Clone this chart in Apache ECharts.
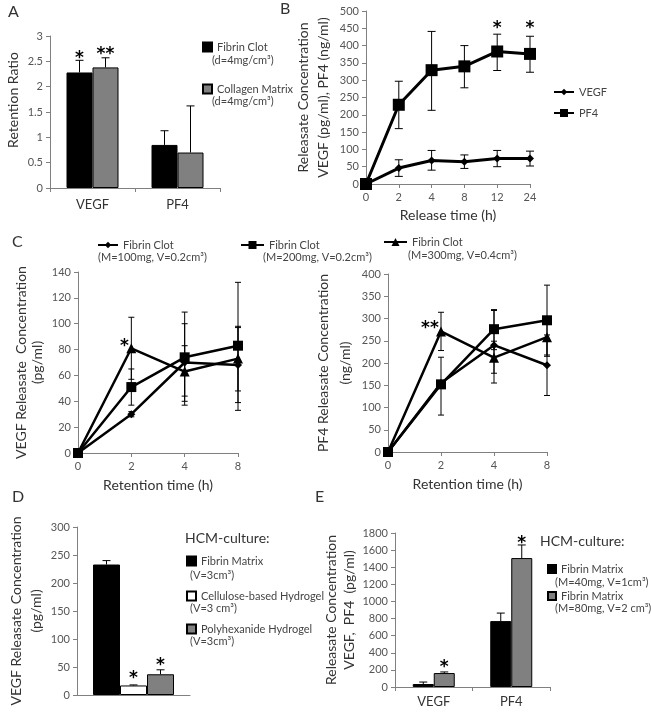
<!DOCTYPE html>
<html><head><meta charset="utf-8">
<script src="https://cdn.jsdelivr.net/npm/echarts@6.0.0/dist/echarts.min.js"></script>
<style>html,body{margin:0;padding:0;background:#fff}#c{width:651px;height:714px}</style>
</head><body><div id="c"></div>
<script>
// ---------- Panel A ----------
const aCategories = ['VEGF', 'PF4'];
const aFibrinClot = [2.28, 0.85];
const aFibrinClotHigh = [2.52, 1.13];
const aCollagen = [2.38, 0.70];
const aCollagenHigh = [2.57, 1.62];
const aStarCat = [0, 0];
const aStarBar = [0, 1];
const aStarVal = [2.66, 2.74];
const aStarText = ['*', '**'];
// ---------- Panel B ----------
const bTimes = ['0', '2', '4', '8', '12', '24'];
const bVEGF = [0, 46, 68, 64, 74, 74];
const bVEGFLow = [0, 22, 40, 45, 50, 52];
const bVEGFHigh = [0, 70, 97, 84, 97, 95];
const bPF4 = [0, 229, 329, 340, 383, 376];
const bPF4Low = [0, 160, 213, 278, 328, 323];
const bPF4High = [0, 297, 441, 400, 433, 427];
const bStarCat = [4, 5];
const bStarVal = [465, 465];
const bStarText = ['*', '*'];
// ---------- Panel C ----------
const cTimes = ['0', '2', '4', '8'];
const cVegfM100 = [0, 30, 70, 68];
const cVegfM100Low = [0, 28, 40, 39];
const cVegfM100High = [0, 32, 100, 97];
const cVegfM200 = [0, 51, 74, 83];
const cVegfM200Low = [0, 37, 37, 33];
const cVegfM200High = [0, 65, 109, 132];
const cVegfM300 = [0, 81, 63, 73];
const cVegfM300Low = [0, 57, 44, 48];
const cVegfM300High = [0, 105, 83, 98];
const cPf4M100 = [0, 155, 240, 195];
const cPf4M100Low = [0, 150, 155, 127];
const cPf4M100High = [0, 160, 320, 263];
const cPf4M200 = [0, 152, 276, 296];
const cPf4M200Low = [0, 83, 230, 215];
const cPf4M200High = [0, 213, 318, 375];
const cPf4M300 = [0, 271, 212, 258];
const cPf4M300Low = [0, 228, 177, 218];
const cPf4M300High = [0, 314, 249, 298];
const cLeftStarCat = [1], cLeftStarVal = [86], cLeftStarText = ['*'];
const cRightStarCat = [1], cRightStarVal = [288], cRightStarText = ['**'];
// ---------- Panel D ----------
const dCategories = [''];
const dFibrinMatrix = [233];
const dFibrinMatrixHigh = [240];
const dCellulose = [17];
const dCelluloseHigh = [18];
const dPolyhexanide = [37];
const dPolyhexanideHigh = [45];
const dStarCat = [0, 0], dStarBar = [1, 2], dStarVal = [39, 61], dStarText = ['*', '*'];
// ---------- Panel E ----------
const eCategories = ['VEGF', 'PF4'];
const eM40 = [35, 770];
const eM40High = [58, 864];
const eM80 = [163, 1507];
const eM80High = [176, 1660];
const eStarCat = [0, 1], eStarBar = [1, 1], eStarVal = [280, 1730], eStarText = ['*', '*'];

const FONT = 'Lato, "Open Sans", sans-serif';
const AX = '#808080';
const TXT = '#333';

function yAx(g, min, max, interval, name, nameGap, lh, pad) {
  return {type: 'value', gridIndex: g, min, max, interval, name, nameLocation: 'middle', nameGap, nameRotate: 90,
    nameTextStyle: {fontSize: 14, color: TXT, fontFamily: FONT, lineHeight: lh || 17, padding: pad || 0},
    axisLine: {show: true, lineStyle: {color: AX}}, axisTick: {show: true, length: 4, lineStyle: {color: AX}},
    axisLabel: {fontSize: 11, color: '#555', fontFamily: FONT, margin: 7, formatter: v => String(v)},
    splitLine: {show: false}};
}
function xCat(g, data, boundaryGap, opts) {
  return Object.assign({type: 'category', gridIndex: g, data, boundaryGap,
    axisLine: {show: true, lineStyle: {color: AX}}, axisTick: {show: true, length: 4, lineStyle: {color: AX}},
    axisLabel: {fontSize: 11, color: '#555', fontFamily: FONT, margin: 8}, splitLine: {show: false}}, opts || {});
}
function barS(g, name, data, color, barW) {
  return {type: 'bar', name, xAxisIndex: g, yAxisIndex: g, data, barWidth: barW, barGap: '0%',
    itemStyle: {color, borderColor: '#000', borderWidth: 1}, silent: true, z: 2};
}
function barErr(g, values, highs, barIdx, nBars, barW) {
  return {type: 'custom', xAxisIndex: g, yAxisIndex: g, silent: true, z: 3,
    data: values.map((v, i) => [i, v, highs[i]]), encode: {x: 0, y: [1, 2]},
    renderItem: (p, api) => {
      const a = api.coord([api.value(0), api.value(1)]);
      const b = api.coord([api.value(0), api.value(2)]);
      const x = a[0] + (barIdx - (nBars - 1) / 2) * barW;
      const st = {stroke: '#000', lineWidth: 1};
      return {type: 'group', children: [
        {type: 'line', shape: {x1: x, y1: a[1], x2: x, y2: b[1]}, style: st},
        {type: 'line', shape: {x1: x - 4, y1: b[1], x2: x + 4, y2: b[1]}, style: st}]};
    }};
}
function lineS(g, name, data, symbol, size, lw) {
  return {type: 'line', name, xAxisIndex: g, yAxisIndex: g, data, symbol, symbolSize: size, showSymbol: true,
    lineStyle: {color: '#000', width: lw}, itemStyle: {color: '#000'}, silent: true, z: 4};
}
function lineErr(g, low, high, cap) {
  return {type: 'custom', xAxisIndex: g, yAxisIndex: g, silent: true, z: 3,
    data: low.map((l, i) => [i, l, high[i]]), encode: {x: 0, y: [1, 2]},
    renderItem: (p, api) => {
      if (api.value(1) === api.value(2)) return null;
      const a = api.coord([api.value(0), api.value(1)]);
      const b = api.coord([api.value(0), api.value(2)]);
      const x = a[0];
      const st = {stroke: '#000', lineWidth: 1};
      return {type: 'group', children: [
        {type: 'line', shape: {x1: x, y1: a[1], x2: x, y2: b[1]}, style: st},
        {type: 'line', shape: {x1: x - cap, y1: a[1], x2: x + cap, y2: a[1]}, style: st},
        {type: 'line', shape: {x1: x - cap, y1: b[1], x2: x + cap, y2: b[1]}, style: st}]};
    }};
}
function starS(g, cats, bars, vals, texts, nBars, barW, dx) {
  return {type: 'custom', xAxisIndex: g, yAxisIndex: g, silent: true, z: 6,
    data: cats.map((c, i) => [c, vals[i], bars ? bars[i] : 0, i]), encode: {x: 0, y: 1},
    renderItem: (p, api) => {
      const pt = api.coord([api.value(0), api.value(1)]);
      const bi = api.value(2);
      const x = pt[0] + (nBars ? (bi - (nBars - 1) / 2) * barW : 0) + (dx || 0);
      return {type: 'text', x, y: pt[1] + 5,
        style: {text: texts[api.value(3)], fill: '#000', font: 'bold 17px "DejaVu Sans", sans-serif', align: 'center', verticalAlign: 'middle'}};
    }};
}
function leg(seriesName, display, x, cy, w, h, icon) {
  const l = {show: true, data: [seriesName], left: x, top: cy - 7, padding: 0, itemWidth: w, itemHeight: h, itemGap: 0,
    selectedMode: false, formatter: () => display,
    textStyle: {fontSize: 11, color: '#444', fontFamily: FONT, lineHeight: 14}};
  if (icon) l.icon = icon;
  return l;
}
function txt(text, x, y, size, extra) {
  return {type: 'text', left: x, top: y - Math.round(size * 0.65),
    style: {text, fill: extra && extra.fill || '#444', font: size + 'px ' + FONT}};
}

const option = {
  animation: false,
  backgroundColor: '#fff',
  grid: [
    {left: 50, top: 36, width: 170, height: 152},
    {left: 366, top: 11, width: 164, height: 173},
    {left: 78, top: 272, width: 160, height: 181},
    {left: 388, top: 274, width: 159, height: 178},
    {left: 77, top: 527, width: 113, height: 168},
    {left: 395, top: 533, width: 155, height: 154}
  ],
  xAxis: [
    xCat(0, aCategories, true, {axisLabel: {fontSize: 13, color: TXT, fontFamily: FONT, margin: 10}}),
    xCat(1, bTimes, false, {name: 'Release time (h)', nameLocation: 'middle', nameGap: 24,
      nameTextStyle: {fontSize: 14, color: TXT, fontFamily: FONT}}),
    xCat(2, cTimes, false, {name: 'Retention time (h)', nameLocation: 'middle', nameGap: 25,
      nameTextStyle: {fontSize: 14, color: TXT, fontFamily: FONT}}),
    xCat(3, cTimes, false, {name: 'Retention time (h)', nameLocation: 'middle', nameGap: 25,
      nameTextStyle: {fontSize: 14, color: TXT, fontFamily: FONT}}),
    xCat(4, dCategories, true, {axisLabel: {show: false}, axisTick: {show: false}}),
    xCat(5, eCategories, true, {axisLabel: {fontSize: 13, color: TXT, fontFamily: FONT, margin: 8}})
  ],
  yAxis: [
    yAx(0, 0, 3, 0.5, 'Retention Ratio', 28, 17, [0, 0, 0, 24]),
    yAx(1, 0, 500, 50, 'Releasate Concentration\nVEGF (pg/ml), PF4 (ng/ml)', 33, 20),
    yAx(2, 0, 140, 20, 'VEGF Releasate  Concentration\n(pg/ml)', 33, 16),
    yAx(3, 0, 400, 50, 'PF4 Releasate Concentration\n(ng/ml)', 32, 22),
    yAx(4, 0, 300, 50, 'VEGF Releasate Concentration\n(pg/ml)', 28, 20),
    yAx(5, 0, 1800, 200, 'Releasate Concentration\nVEGF,  PF4  (pg/ml)', 30, 18)
  ],
  legend: [
    leg('A-fibrin', 'Fibrin Clot', 202, 47, 9, 9, 'rect'),
    leg('A-collagen', 'Collagen Matrix', 202, 89, 9, 9, 'rect'),
    leg('B-VEGF', 'VEGF', 553, 92, 20, 8),
    leg('B-PF4', 'PF4', 553, 113, 20, 10),
    leg('C-M100', 'Fibrin Clot', 97, 245, 20, 8),
    leg('C-M200', 'Fibrin Clot', 240, 245, 23, 10),
    leg('C-M300', 'Fibrin Clot', 383, 242, 23, 10),
    leg('D-fibrin', 'Fibrin Matrix', 186, 561, 9, 9, 'rect'),
    leg('D-cellulose', 'Cellulose-based Hydrogel', 186, 596, 9, 9, 'rect'),
    leg('D-poly', 'Polyhexanide Hydrogel', 186, 629, 9, 9, 'rect'),
    leg('E-M40', 'Fibrin Matrix', 547, 569, 8, 8, 'rect'),
    leg('E-M80', 'Fibrin Matrix', 547, 596, 8, 8, 'rect')
  ],
  graphic: [
    txt('A', 8, 14, 16, {fill: TXT}), txt('B', 280, 11, 16, {fill: TXT}), txt('C', 12, 244, 16, {fill: TXT}),
    txt('D', 12, 499, 16, {fill: TXT}), txt('E', 315, 499, 16, {fill: TXT}),
    txt('(d=4mg/cm³)', 212, 62, 11), txt('(d=4mg/cm³)', 212, 103, 11),
    txt('(M=100mg, V=0.2cm³)', 98, 259, 11), txt('(M=200mg, V=0.2cm³)', 263, 259, 11),
    txt('(M=300mg, V=0.4cm³)', 408, 257, 11),
    txt('HCM-culture:', 185, 540, 14, {fill: TXT}),
    txt('(V=3cm³)', 190, 577, 11), txt('(V=3 cm³)', 190, 610, 11), txt('(V=3cm³)', 190, 643, 11),
    txt('HCM-culture:', 540, 543, 14, {fill: TXT}),
    txt('(M=40mg, V=1cm³)', 555, 584, 11), txt('(M=80mg, V=2 cm³)', 555, 610, 11)
  ],
  series: [
    // A
    barS(0, 'A-fibrin', aFibrinClot, '#000', 26),
    barS(0, 'A-collagen', aCollagen, '#808080', 26),
    barErr(0, aFibrinClot, aFibrinClotHigh, 0, 2, 26),
    barErr(0, aCollagen, aCollagenHigh, 1, 2, 26),
    starS(0, aStarCat, aStarBar, aStarVal, aStarText, 2, 26),
    // B
    lineErr(1, bVEGFLow, bVEGFHigh, 4),
    lineErr(1, bPF4Low, bPF4High, 4),
    lineS(1, 'B-VEGF', bVEGF, 'diamond', 8, 3),
    lineS(1, 'B-PF4', bPF4, 'rect', 12, 3),
    starS(1, bStarCat, null, bStarVal, bStarText),
    // C left
    lineErr(2, cVegfM100Low, cVegfM100High, 3),
    lineErr(2, cVegfM200Low, cVegfM200High, 3),
    lineErr(2, cVegfM300Low, cVegfM300High, 3),
    lineS(2, 'C-M100', cVegfM100, 'diamond', 8, 2.5),
    lineS(2, 'C-M200', cVegfM200, 'rect', 10, 2.5),
    lineS(2, 'C-M300', cVegfM300, 'triangle', 10, 2.5),
    starS(2, cLeftStarCat, null, cLeftStarVal, cLeftStarText, 0, 0, -7),
    // C right
    lineErr(3, cPf4M100Low, cPf4M100High, 3),
    lineErr(3, cPf4M200Low, cPf4M200High, 3),
    lineErr(3, cPf4M300Low, cPf4M300High, 3),
    lineS(3, 'C-M100r', cPf4M100, 'diamond', 8, 2.5),
    lineS(3, 'C-M200r', cPf4M200, 'rect', 10, 2.5),
    lineS(3, 'C-M300r', cPf4M300, 'triangle', 10, 2.5),
    starS(3, cRightStarCat, null, cRightStarVal, cRightStarText, 0, 0, -11),
    // D
    barS(4, 'D-fibrin', dFibrinMatrix, '#000', 27),
    barS(4, 'D-cellulose', dCellulose, '#fff', 27),
    barS(4, 'D-poly', dPolyhexanide, '#808080', 27),
    barErr(4, dFibrinMatrix, dFibrinMatrixHigh, 0, 3, 27),
    barErr(4, dCellulose, dCelluloseHigh, 1, 3, 27),
    barErr(4, dPolyhexanide, dPolyhexanideHigh, 2, 3, 27),
    starS(4, dStarCat, dStarBar, dStarVal, dStarText, 3, 27),
    // E
    barS(5, 'E-M40', eM40, '#000', 21),
    barS(5, 'E-M80', eM80, '#808080', 21),
    barErr(5, eM40, eM40High, 0, 2, 21),
    barErr(5, eM80, eM80High, 1, 2, 21),
    starS(5, eStarCat, eStarBar, eStarVal, eStarText, 2, 21)
  ]
};
const chart = echarts.init(document.getElementById('c'), null, {renderer: 'canvas'});
chart.setOption(option);
</script>
</body></html>
